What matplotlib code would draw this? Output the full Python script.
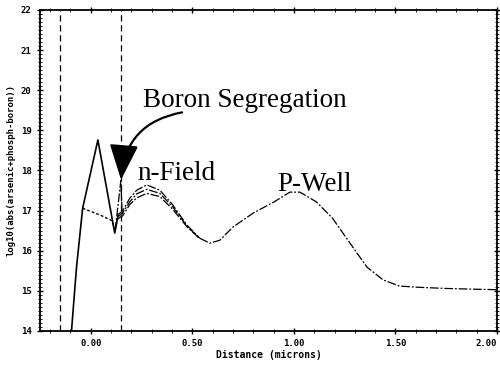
import matplotlib
matplotlib.use("Agg")
import matplotlib.pyplot as plt
from matplotlib.patches import FancyArrowPatch, ArrowStyle
from matplotlib.ticker import MultipleLocator

# ---- data ----
# early solid rise / spike
early_x = [-0.095, -0.07, -0.04, 0.035, 0.118, 0.135]
early_y = [14.0, 15.6, 17.06, 18.76, 16.44, 16.9]

# n-Field hump (three slightly different profiles)
hump_x = [0.135, 0.158, 0.192, 0.227, 0.276, 0.34, 0.404, 0.473, 0.537]
hump1_y = [16.9, 17.0, 17.31, 17.51, 17.64, 17.51, 17.14, 16.64, 16.31]
hump2_y = [16.85, 16.95, 17.22, 17.42, 17.53, 17.43, 17.09, 16.62, 16.30]
hump3_y = [16.8, 16.88, 17.15, 17.32, 17.43, 17.35, 17.03, 16.60, 16.30]

# dotted branch
dot_x = [-0.04, 0.0, 0.05, 0.10, 0.12, 0.135]
dot_y = [17.06, 16.98, 16.88, 16.76, 16.55, 16.85]

# segregation spike
spike_x = [0.12, 0.148, 0.155]
spike_y = [16.5, 17.75, 16.85]

# common tail (P-Well)
tail_x = [0.537, 0.586, 0.635, 0.70, 0.80, 0.90, 0.98, 1.03, 1.11, 1.19,
          1.276, 1.36, 1.44, 1.52, 1.61, 1.75, 1.90, 2.0]
tail_y = [16.31, 16.19, 16.26, 16.59, 16.94, 17.21, 17.46, 17.46, 17.22, 16.81,
          16.19, 15.59, 15.27, 15.12, 15.09, 15.06, 15.04, 15.03]

junctions = [-0.15, 0.148]

xticks = [0.0, 0.5, 1.0, 1.5, 2.0]
xtick_labels = ["0.00", "0.50", "1.00", "1.50", "2.00"]
yticks = [14, 15, 16, 17, 18, 19, 20, 21, 22]

# ---- figure ----
fig = plt.figure(figsize=(5.0, 3.69), dpi=100)
ax = fig.add_axes([0.08, 0.103, 0.914, 0.870])

dd = (0, (7, 1.5, 1.5, 1.5))
lw = 0.9
ax.plot(early_x, early_y, color="black", lw=1.2, ls="-")
ax.plot(dot_x, dot_y, color="black", lw=1.0, ls=(0, (2, 1.5)))
ax.plot(spike_x, spike_y, color="black", lw=lw, ls=dd)
for hy in (hump1_y, hump2_y, hump3_y):
    ax.plot(hump_x, hy, color="black", lw=lw, ls=dd)
ax.plot(tail_x, tail_y, color="black", lw=lw, ls=dd)

for jx in junctions:
    ax.axvline(jx, color="black", lw=0.9, ls=(0, (5, 3)))

ax.set_xlim(-0.25, 2.0)
ax.set_ylim(14, 22)
ax.set_xticks(xticks)
ax.set_xticklabels(xtick_labels)
ax.set_yticks(yticks)
ax.xaxis.set_minor_locator(MultipleLocator(0.1))
ax.yaxis.set_minor_locator(MultipleLocator(0.1))
ax.tick_params(which="both", direction="inout", top=True, right=True,
               labelsize=6.5)
ax.tick_params(which="major", length=5, width=1)
ax.tick_params(which="minor", length=2.5, width=0.6)
for lab in ax.get_xticklabels() + ax.get_yticklabels():
    lab.set_family("DejaVu Sans Mono")
    lab.set_fontweight("bold")
ax.get_xticklabels()[-1].set_horizontalalignment("right")
for s in ax.spines.values():
    s.set_linewidth(1.3)

ax.set_xlabel("Distance (microns)", family="DejaVu Sans Mono",
              fontweight="bold", fontsize=7, labelpad=1)
ax.set_ylabel("log10(abs(arsenic+phosph-boron))", family="DejaVu Sans Mono",
              fontweight="bold", fontsize=6.5, labelpad=4)

serif = "Liberation Serif"
fs = 19.5
ax.text(0.256, 19.58, "Boron Segregation", family=serif, fontsize=fs,
        va="baseline", ha="left")
ax.text(0.227, 17.76, "n-Field", family=serif, fontsize=fs,
        va="baseline", ha="left")
ax.text(0.916, 17.49, "P-Well", family=serif, fontsize=fs,
        va="baseline", ha="left")

arrow = FancyArrowPatch((0.463, 19.46), (0.148, 17.70),
                        connectionstyle="arc3,rad=0.4",
                        arrowstyle=ArrowStyle("-|>", head_length=1.1,
                                              head_width=0.45),
                        mutation_scale=20, color="black", lw=1.6)
ax.add_patch(arrow)

fig.savefig("out.png", dpi=100)
